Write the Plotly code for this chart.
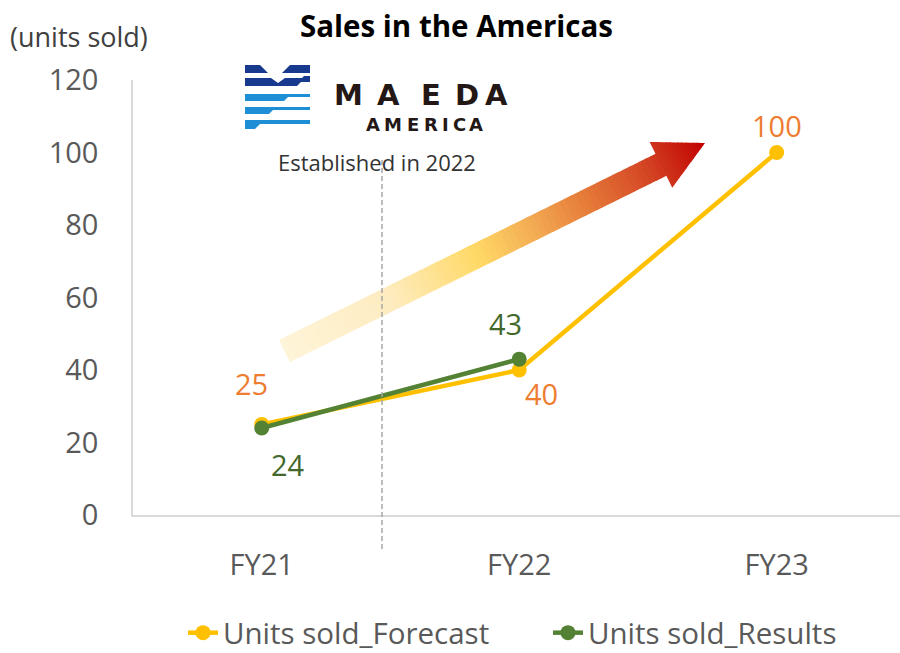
import math
import plotly.graph_objects as go

# ---- data ----
categories = ["FY21", "FY22", "FY23"]
forecast = [25, 40, 100]
results = [24, 43, None]
y_ticks = [0, 20, 40, 60, 80, 100, 120]

W, H = 900, 653
FONT = "Open Sans"

# plot area in pixels (margins are zero, so paper == whole figure)
PL, PR, PT, PB = 133, 900, 80, 515


def px(x):
    return x / W


def py(y):
    return 1 - y / H


def poly_path(pts):
    return "M " + " L ".join(f"{px(x):.5f},{py(y):.5f}" for x, y in pts) + " Z"


def label(x, y, text, size, color, xanchor="center", yanchor="middle", family=FONT,
          weight="normal"):
    return dict(x=px(x), y=py(y), xref="paper", yref="paper", text=text,
                showarrow=False, xanchor=xanchor, yanchor=yanchor,
                font=dict(family=family, size=size, color=color, weight=weight))


fig = go.Figure()

fig.add_trace(go.Scatter(
    x=[0, 1, 2], y=forecast, name="Units sold_Forecast",
    mode="lines+markers",
    line=dict(color="#FFC000", width=4.5),
    marker=dict(color="#FFC000", size=15),
))
fig.add_trace(go.Scatter(
    x=[0, 1, 2], y=results, name="Units sold_Results",
    mode="lines+markers",
    line=dict(color="#548235", width=4.5),
    marker=dict(color="#548235", size=15),
))

shapes = []
annotations = []

# ---- gradient trend arrow ----
tail_mid = (284.5, 351.0)
tip = (705.0, 143.0)
dx, dy = tip[0] - tail_mid[0], tip[1] - tail_mid[1]
L = math.hypot(dx, dy)
ux, uy = dx / L, dy / L
nx, ny = -uy, ux
body_half = 12.3
head_start = 420.0
head_half = 25.5

stops = [
    (0.00, (254, 244, 216)),
    (0.25, (254, 236, 192)),
    (0.46, (255, 217, 102)),
    (0.60, (242, 168, 82)),
    (0.72, (229, 122, 56)),
    (0.86, (212, 70, 36)),
    (1.00, (192, 0, 0)),
]


def grad(t):
    for (t0, c0), (t1, c1) in zip(stops, stops[1:]):
        if t <= t1:
            f = (t - t0) / (t1 - t0)
            return "rgb({},{},{})".format(*[round(a + (b - a) * f) for a, b in zip(c0, c1)])
    return "rgb(192,0,0)"


def pt(s, w):
    return (tail_mid[0] + ux * s + nx * w, tail_mid[1] + uy * s + ny * w)


n_body = 70
for i in range(n_body):
    s0 = head_start * i / n_body
    s1 = head_start * (i + 1) / n_body + 0.6
    col = grad((s0 + s1) / 2 / L)
    pts = [pt(s0, -body_half), pt(s1, -body_half), pt(s1, body_half), pt(s0, body_half)]
    shapes.append(dict(type="path", xref="paper", yref="paper", path=poly_path(pts),
                       fillcolor=col, line=dict(width=0), layer="below"))
n_head = 14
for i in range(n_head):
    s0 = head_start + (L - head_start) * i / n_head
    s1 = min(head_start + (L - head_start) * (i + 1) / n_head + 0.6, L)
    w0 = head_half * (L - s0) / (L - head_start)
    w1 = head_half * (L - s1) / (L - head_start)
    col = grad((s0 + s1) / 2 / L)
    pts = [pt(s0, -w0), pt(s1, -w1), pt(s1, w1), pt(s0, w0)]
    shapes.append(dict(type="path", xref="paper", yref="paper", path=poly_path(pts),
                       fillcolor=col, line=dict(width=0), layer="below"))

# ---- dashed divider ----
shapes.append(dict(type="line", xref="paper", yref="paper",
                   x0=px(382), x1=px(382), y0=py(160), y1=py(550),
                   line=dict(color="#A6A6A6", width=1.5, dash="5px,3px")))

# ---- logo mark ----
navy = "#173A8E"
blue = "#1E8FD6"
logo_polys = [
    (navy, [(245, 65), (260, 65), (268, 73), (245, 73)]),
    (navy, [(290, 65), (310, 65), (310, 73), (282, 73)]),
    (navy, [(245, 78), (271, 78), (278, 83), (285, 78), (302, 78), (304, 76), (310, 76),
            (310, 82), (301, 82), (297, 86), (245, 86)]),
    (blue, [(245, 94), (310, 94), (310, 97), (288, 97), (284, 101), (245, 101)]),
    (blue, [(245, 107), (310, 107), (310, 110), (273, 110), (269, 114), (245, 114)]),
    (blue, [(245, 120), (310, 120), (310, 124), (260, 124), (255, 129), (245, 129)]),
]
for col, pts in logo_polys:
    shapes.append(dict(type="path", xref="paper", yref="paper", path=poly_path(pts),
                       fillcolor=col, line=dict(width=0)))

for ch, cx in zip("MAEDA", [348, 388, 431, 467, 497]):
    annotations.append(label(cx, 95, ch, 29, "#231815", family="DejaVu Sans",
                             weight="bold"))
for ch, cx in zip("AMERICA", [373, 393, 413, 431, 445, 459, 476]):
    annotations.append(label(cx, 124, ch, 18, "#231815", family="DejaVu Sans",
                             weight="bold"))

# ---- texts ----
annotations.append(label(377, 162, "Established in 2022", 22, "#333333"))
annotations.append(label(456, 26, "Sales in the Americas", 29.5, "#000000", weight="bold"))
annotations.append(label(8, 37, "(units sold)", 27, "#404040", xanchor="left"))

# ---- data labels ----
orange = "#ED7D31"
green = "#43682B"
f_shift = [(-10, 41), (22, -23), (0, 27)]
r_shift = [(26, -36), (-14, 36), None]
for i, v in enumerate(forecast):
    sx, sy = f_shift[i]
    annotations.append(dict(x=i, y=v, xref="x", yref="y", text=str(v), showarrow=False,
                            xshift=sx, yshift=sy, xanchor="center", yanchor="middle",
                            font=dict(family=FONT, size=29, color=orange)))
for i, v in enumerate(results):
    if v is None:
        continue
    sx, sy = r_shift[i]
    annotations.append(dict(x=i, y=v, xref="x", yref="y", text=str(v), showarrow=False,
                            xshift=sx, yshift=sy, xanchor="center", yanchor="middle",
                            font=dict(family=FONT, size=29, color=green)))

fig.update_layout(
    width=W, height=H,
    margin=dict(l=0, r=0, t=0, b=0, autoexpand=False),
    paper_bgcolor="white", plot_bgcolor="white",
    font=dict(family=FONT, color="#595959"),
    shapes=shapes, annotations=annotations,
    showlegend=True,
    legend=dict(orientation="h", x=px(183), y=py(633), xanchor="left", yanchor="middle",
                entrywidth=320,
                font=dict(family=FONT, size=29.5, color="#595959"),
                bgcolor="rgba(0,0,0,0)"),
    xaxis=dict(domain=[PL / W, PR / W], range=[-0.5, 2.479],
               tickvals=[0, 1, 2], ticktext=categories,
               showline=True, linecolor="#D9D9D9", linewidth=1.5,
               showgrid=False, zeroline=False, ticks="", ticklen=0,
               ticklabelstandoff=23,
               tickfont=dict(family=FONT, size=29, color="#595959")),
    yaxis=dict(domain=[1 - PB / H, 1 - PT / H], range=[0, 120],
               tickvals=y_ticks,
               showline=True, linecolor="#D9D9D9", linewidth=1.5,
               showgrid=False, zeroline=False, ticks="", ticklen=0,
               ticklabelstandoff=27,
               tickfont=dict(family=FONT, size=29, color="#595959")),
)

fig.write_html("out.html")
